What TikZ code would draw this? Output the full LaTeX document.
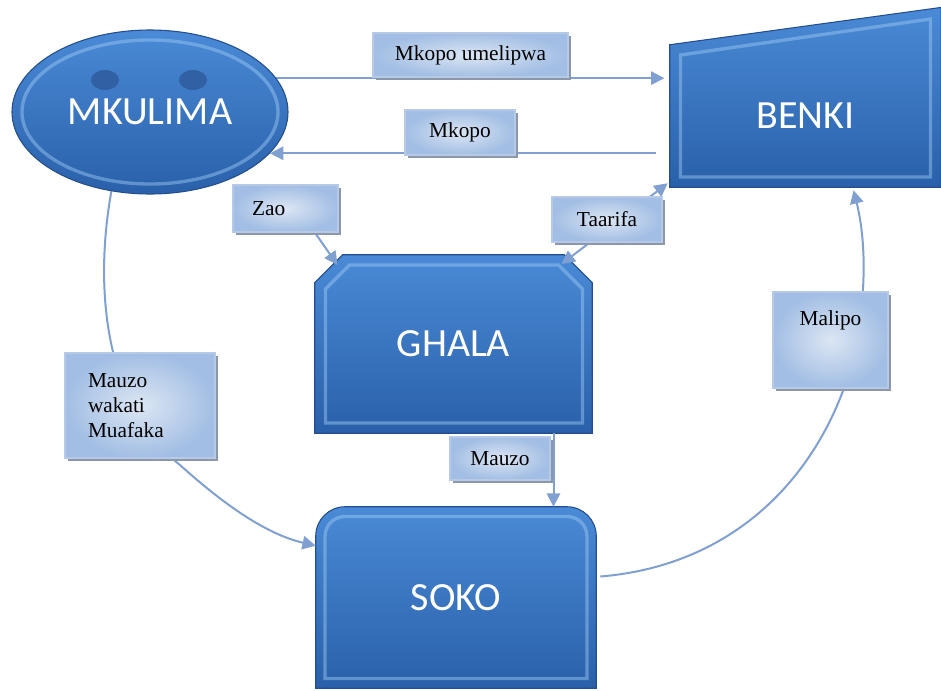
\documentclass[tikz,border=0pt]{standalone}
\usepackage{fontspec}
\newfontfamily\bigfont{Carlito}
\newfontfamily\tagfont{Liberation Serif}
\usetikzlibrary{arrows.meta,shapes.geometric,shadows,backgrounds}
\definecolor{shapetop}{RGB}{74,138,214}
\definecolor{shapebot}{RGB}{42,96,170}
\definecolor{shapeedge}{RGB}{36,78,142}
\definecolor{bevelc}{RGB}{160,205,245}
\definecolor{dotc}{RGB}{44,88,152}
\definecolor{linkc}{RGB}{128,160,210}
\definecolor{tagin}{RGB}{220,230,243}
\definecolor{tagout}{RGB}{162,190,228}
\definecolor{tagedge}{RGB}{182,202,232}
\definecolor{tagshadow}{RGB}{140,152,170}
\begin{document}
\begin{tikzpicture}[
    x=0.75pt, y=-0.75pt,
    >={Triangle[length=10pt, width=10pt]},
    block/.style={top color=shapetop, bottom color=shapebot, draw=shapeedge, line width=0.8pt},
    word/.style={text=white, font=\bigfont\fontsize{30}{36}\selectfont},
    bevel/.style={draw=bevelc, draw opacity=0.45, line width=2.5pt},
    tag/.style={draw=tagedge, line width=0.8pt, inner color=tagin, outer color=tagout,
        drop shadow={shadow xshift=2.5pt, shadow yshift=-2.5pt, fill=tagshadow, opacity=1},
        font=\tagfont\fontsize{16}{18.5}\selectfont, inner sep=0pt},
    link/.style={draw=linkc, line width=1.5pt, ->}
]
\useasboundingbox (0,0) rectangle (941,690);

% Vitalu
\node[block, ellipse, minimum width=207pt, minimum height=123pt, word] (mkulima) at (150,112) {MKULIMA};
\node[word, minimum width=203.25pt, minimum height=106.5pt] (benki) at (805.5,116) {BENKI};
\node[word, minimum width=207.75pt, minimum height=133.5pt] (ghala) at (453.5,344) {GHALA};
\node[word, minimum width=210pt, minimum height=135.75pt] (soko) at (456,597.5) {SOKO};

% Mwanga
\draw[bevel] (mkulima.center) ellipse (96pt and 54pt);
\fill[dotc, opacity=0.75] ([shift={(-45,-32)}]mkulima.center) ellipse (10.5pt and 7.5pt);
\fill[dotc, opacity=0.75] ([shift={(43,-32)}]mkulima.center) ellipse (10.5pt and 7.5pt);
\draw[bevel] ([shift={(-128,79)}]ghala.center) -- ++(0,-134) -- ++(24,-24) -- ++(209,0) -- ++(24,24) -- ++(0,134) -- cycle;
\draw[bevel] ([shift={(-131,81)}]soko.center) -- ([shift={(-131,0)}]soko.center) [rounded corners=15pt]
    -- ([shift={(-131,-81)}]soko.center) -- ([shift={(131,-81)}]soko.center) -- ([shift={(131,0)}]soko.center)
    [sharp corners] -- ([shift={(131,81)}]soko.center) -- cycle;
\draw[bevel] ([shift={(-125,61)}]benki.center) -- ++(0,-122) -- ([shift={(125,-97)}]benki.center)
    -- ([shift={(125,61)}]benki.center) -- cycle;

% Lebo
\node[tag, minimum width=146.25pt, minimum height=33pt] (umelipwa) at (470.5,55) {Mkopo umelipwa};
\node[tag, minimum width=82.5pt, minimum height=33.75pt] (mkopo) at (460,132.5) {Mkopo};
\node[tag, minimum width=78.75pt, minimum height=35.25pt, text width=50pt, align=left] (zao) at (285.5,208.5) {Zao};
\node[tag, minimum width=82.5pt, minimum height=33.75pt] (taarifa) at (607,219.5) {Taarifa};
\node[tag, minimum width=75pt, minimum height=32.25pt] (mauzo) at (500,458.5) {Mauzo};
\node[tag, minimum width=112.5pt, minimum height=78.75pt, text width=78pt, align=left] (muafaka) at (140,405.5) {Mauzo\\wakati\\Muafaka};
\node[tag, minimum width=86.25pt, minimum height=72pt, inner ysep=13pt, text height=12pt, text depth=34pt] (malipo) at (830.5,340) {Malipo};

\begin{pgfonlayer}{background}
\path[block] (benki.south west) -- (benki.north west) -- ([yshift=28pt]benki.north east) -- (benki.south east) -- cycle;
\path[block] (ghala.south west) -- ([yshift=-21pt]ghala.north west) -- ([xshift=21pt]ghala.north west)
    -- ([xshift=-21pt]ghala.north east) -- ([yshift=-21pt]ghala.north east) -- (ghala.south east) -- cycle;
\path[block] (soko.south west) -- (soko.west) [rounded corners=22pt] -- (soko.north west) -- (soko.north)
    -- (soko.north east) -- (soko.east) [sharp corners] -- (soko.south east) -- cycle;

% Mishale
\draw[link, shorten >=4pt] (mkulima.15) -- (mkulima.15 -| benki.west);
\draw[link, shorten <=10pt] (mkulima.-19 -| benki.west) -- (mkulima.-19);
\draw[link] ([xshift=22pt]zao.south) -- ([shift={(-116,-79)}]ghala.center);
\draw[link, <->] ([shift={(-2,-4)}]benki.south west) -- ([shift={(108,-80)}]ghala.center);
\coordinate (m1) at ([xshift=75pt]ghala.south);
\draw[link] (m1) -- (m1 |- soko.north);
\draw[link] (mkulima.-116) .. controls (92,300) and (110,410) .. (180,465)
    .. controls (230,510) and (270,535) .. ([shift={(0,39)}]soko.north west);
\draw[link] ([shift={(4,-21)}]soko.east) .. controls (740,565) and (820,470) .. (850,370)
    .. controls (868,300) and (866,240) .. ([shift={(48,3)}]benki.south);
\end{pgfonlayer}
\end{tikzpicture}
\end{document}
